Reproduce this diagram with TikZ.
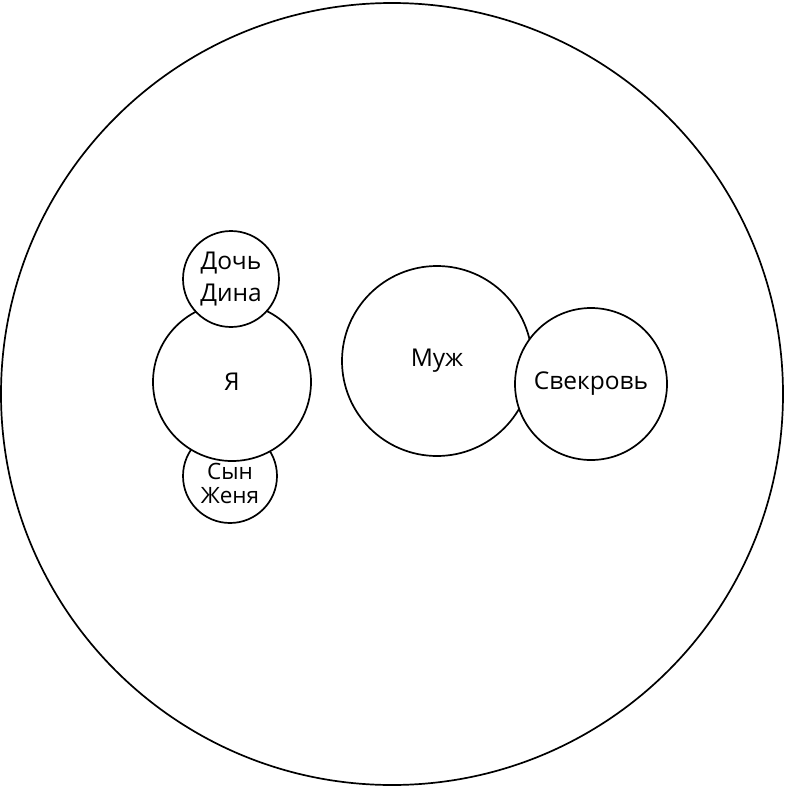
\documentclass[tikz,border=0pt]{standalone}
\usepackage{fontspec}
\setmainfont{Open Sans}
\usetikzlibrary{positioning}

\begin{document}
\begin{tikzpicture}[x=1pt,y=-1pt,
        ring/.style={circle,draw,fill=white,line width=1.7pt,inner sep=0pt,align=center,font=\fontsize{24.5}{32}\selectfont},
        small/.style={ring,minimum size=96pt},
        kid/.style={ring,minimum size=94pt},
        big/.style={ring,minimum size=782pt},
        kidtext/.style={align=center,inner sep=0pt,font=\fontsize{22.5}{24}\selectfont}
      ]
  \useasboundingbox (0,0) rectangle (786,790);

  \node   (family) [big] at (392,394) {};

  % my side
  \node   (son) [kid] at (230,476) {};
  \node   (me) [ring,minimum size=158pt] at (232,382) {Я};
  \node   (sonname) [kidtext] at ([yshift=-7pt]son.center) {Сын\\Женя};
  \node   (daughter) [small] at (231,279) {Дочь\\Дина};

  % husband's side
  \node   (husband) [ring,minimum size=190pt] at (437,361) {Муж};
  \node   (motherinlaw) [ring,minimum size=152pt] at (591,384) {Свекровь};

\end{tikzpicture}
\end{document}
